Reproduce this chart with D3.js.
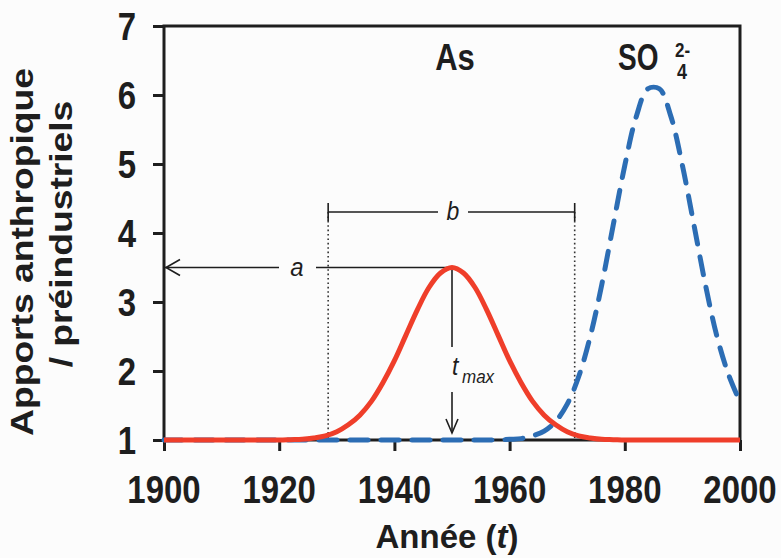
<!DOCTYPE html>
<html>
<head>
<meta charset="utf-8">
<script src="https://cdn.jsdelivr.net/npm/d3@7"></script>
<style>
  body { margin: 0; background: #fcfcfc; }
  text { font-family: "Liberation Sans", Arial, sans-serif; fill: #1e1e1e; }
</style>
</head>
<body>
<div id="chart"></div>
<script>
const years = [1900, 1910, 1920, 1922, 1924, 1926, 1928, 1930, 1932, 1934, 1936, 1938,
  1940, 1942, 1944, 1946, 1948, 1950, 1952, 1954, 1956, 1958, 1960, 1962, 1964, 1966,
  1968, 1970, 1972, 1974, 1976, 1978, 1980, 1982, 1984, 1986, 1988, 1990, 1992, 1994,
  1996, 1998, 2000];
const asValues = [1.00, 1.00, 1.00, 1.005, 1.01, 1.03, 1.06, 1.12, 1.22, 1.36, 1.56, 1.83,
  2.15, 2.52, 2.89, 3.21, 3.42, 3.50, 3.42, 3.21, 2.89, 2.52, 2.15, 1.83, 1.56, 1.36,
  1.22, 1.12, 1.06, 1.03, 1.01, 1.005, 1.00, 1.00, 1.00, 1.00, 1.00, 1.00, 1.00, 1.00,
  1.00, 1.00, 1.00];
const so4Values = [1.00, 1.00, 1.00, 1.00, 1.00, 1.00, 1.00, 1.00, 1.00, 1.00, 1.00, 1.00,
  1.00, 1.00, 1.00, 1.00, 1.00, 1.00, 1.00, 1.00, 1.00, 1.00, 1.01, 1.02, 1.06, 1.13,
  1.27, 1.52, 1.92, 2.50, 3.25, 4.12, 4.98, 5.69, 6.09, 6.09, 5.69, 4.98, 4.12, 3.25,
  2.50, 1.95, 1.55];
const xTicks = [1900, 1920, 1940, 1960, 1980, 2000];
const yTicks = [1, 2, 3, 4, 5, 6, 7];
const tMax = 1950;
const aValue = 3.5;
const bSpan = [1928.5, 1971.3];

const SVGwidth = 781;
const SVGheight = 558;
const ink = '#1e1e1e';

const svg = d3.select('#chart').append('svg')
  .attr('width', SVGwidth)
  .attr('height', SVGheight);

const x = d3.scaleLinear().domain([1900, 2000]).range([164, 740]);
const y = d3.scaleLinear().domain([1, 7]).range([440, 26]);

// stretched text, the scan is taller than it is wide
function label(tx, ty, txt, size, sy, opts = {}) {
  return svg.append('text')
    .attr('transform', `translate(${tx},${ty}) scale(1,${sy})` + (opts.rotate ? ' rotate(-90)' : ''))
    .attr('text-anchor', opts.anchor || 'middle')
    .attr('font-size', size)
    .attr('font-weight', opts.italic ? 'normal' : 'bold')
    .attr('font-style', opts.italic ? 'italic' : 'normal')
    .text(txt);
}

// ticks
svg.append('g')
  .attr('transform', `translate(0,${y(1)})`)
  .call(d3.axisBottom(x).tickValues(xTicks).tickSize(11).tickFormat(''))
  .call(g => g.select('.domain').remove())
  .selectAll('line').attr('stroke', ink).attr('stroke-width', 3);
svg.append('g')
  .attr('transform', `translate(${x(1900)},0)`)
  .call(d3.axisLeft(y).tickValues(yTicks).tickSize(11).tickFormat(''))
  .call(g => g.select('.domain').remove())
  .selectAll('line').attr('stroke', ink).attr('stroke-width', 3);

svg.append('rect')
  .attr('x', x(1900))
  .attr('y', y(7))
  .attr('width', x(2000) - x(1900))
  .attr('height', y(1) - y(7))
  .attr('fill', 'none')
  .attr('stroke', ink)
  .attr('stroke-width', 3);

xTicks.forEach(v => label(x(v), 503, v, 33, 1.18));
yTicks.forEach(v => label(136, y(v) + 14, v, 33, 1.18, {anchor: 'end'}));

label(33, 252, 'Apports anthropique', 31, 1.2, {rotate: true});
label(72, 234, '/ préindustriels', 31, 1.2, {rotate: true});

const xTitle = svg.append('text')
  .attr('x', 447)
  .attr('y', 548)
  .attr('text-anchor', 'middle')
  .attr('font-size', 33)
  .attr('font-weight', 'bold');
xTitle.append('tspan').text('Année (');
xTitle.append('tspan').attr('font-style', 'italic').text('t');
xTitle.append('tspan').text(')');

// b span with dotted guides
bSpan.forEach(v => {
  svg.append('line')
    .attr('x1', x(v)).attr('x2', x(v))
    .attr('y1', 212).attr('y2', y(1))
    .attr('stroke', '#333')
    .attr('stroke-width', 1.6)
    .attr('stroke-dasharray', '1.6,2.8');
  svg.append('line')
    .attr('x1', x(v)).attr('x2', x(v))
    .attr('y1', 203).attr('y2', 221)
    .attr('stroke', ink)
    .attr('stroke-width', 1.6);
});
svg.append('line')
  .attr('x1', x(bSpan[0])).attr('x2', 438)
  .attr('y1', 212).attr('y2', 212)
  .attr('stroke', ink).attr('stroke-width', 1.6);
svg.append('line')
  .attr('x1', 468).attr('x2', x(bSpan[1]))
  .attr('y1', 212).attr('y2', 212)
  .attr('stroke', ink).attr('stroke-width', 1.6);
label(453, 220, 'b', 23, 1.1, {italic: true});

// a arrow
const ay = y(aValue);
svg.append('line')
  .attr('x1', x(1900)).attr('x2', 279)
  .attr('y1', ay).attr('y2', ay)
  .attr('stroke', ink).attr('stroke-width', 1.6);
svg.append('line')
  .attr('x1', 316).attr('x2', x(tMax))
  .attr('y1', ay).attr('y2', ay)
  .attr('stroke', ink).attr('stroke-width', 1.6);
svg.append('path')
  .attr('d', `M${x(1900) + 16},${ay - 8}L${x(1900) + 2},${ay}L${x(1900) + 16},${ay + 8}`)
  .attr('fill', 'none').attr('stroke', ink).attr('stroke-width', 1.6);
label(297, ay + 8, 'a', 24, 1.1, {italic: true});

// t max arrow
const tx = x(tMax);
svg.append('line')
  .attr('x1', tx).attr('x2', tx)
  .attr('y1', ay).attr('y2', 347)
  .attr('stroke', ink).attr('stroke-width', 1.6);
svg.append('line')
  .attr('x1', tx).attr('x2', tx)
  .attr('y1', 392).attr('y2', y(1) - 7)
  .attr('stroke', ink).attr('stroke-width', 1.6);
svg.append('path')
  .attr('d', `M${tx - 6},${y(1) - 21}L${tx},${y(1) - 7}L${tx + 6},${y(1) - 21}`)
  .attr('fill', 'none').attr('stroke', ink).attr('stroke-width', 1.6);
label(tx, 375, 't', 23, 1.1, {italic: true, anchor: 'start'});
label(tx + 10, 383, 'max', 17, 1.1, {italic: true, anchor: 'start'});

const line = d3.line()
  .x((d, i) => x(years[i]))
  .y(d => y(d))
  .curve(d3.curveCatmullRom);

svg.append('path')
  .datum(so4Values)
  .attr('d', line)
  .attr('fill', 'none')
  .attr('stroke', '#2c6db4')
  .attr('stroke-width', 5)
  .attr('stroke-linecap', 'round')
  .attr('stroke-dasharray', '18,13');

svg.append('path')
  .datum(asValues)
  .attr('d', line)
  .attr('fill', 'none')
  .attr('stroke', '#ef3e2a')
  .attr('stroke-width', 5);

label(x(tMax) + 3, 70, 'As', 31, 1.2);
label(618, 70, 'SO', 28, 1.3, {anchor: 'start'});
label(675, 57, '2-', 17, 1.2, {anchor: 'start'});
label(677, 79, '4', 18, 1.2, {anchor: 'start'});
</script>
</body>
</html>
